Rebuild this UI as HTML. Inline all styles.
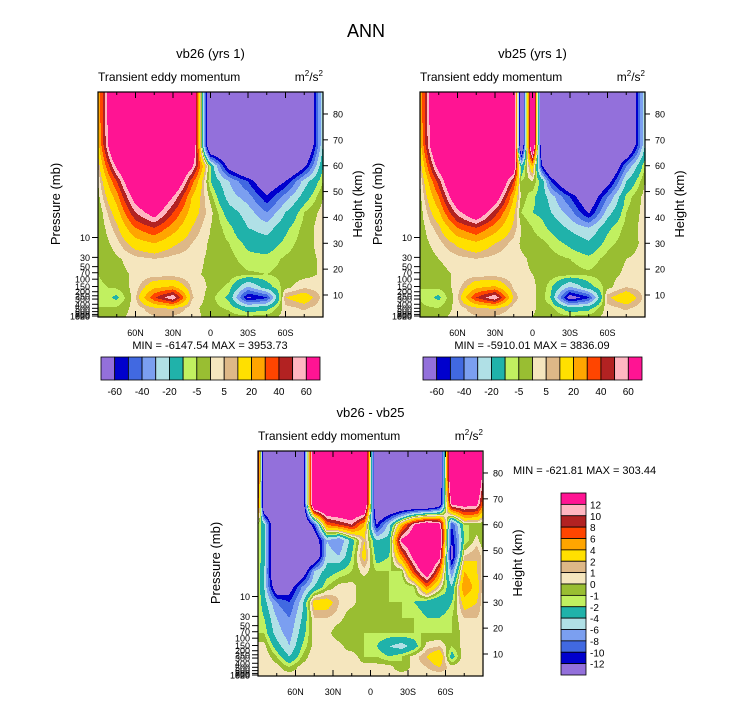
<!DOCTYPE html>
<html><head><meta charset="utf-8">
<style>
html,body{margin:0;padding:0;background:#fff;}
svg{display:block;font-family:"Liberation Sans",Arial,sans-serif;}
</style></head>
<body>
<svg id="fig" width="733" height="701" viewBox="0 0 733 701" xmlns="http://www.w3.org/2000/svg">
<rect width="733" height="701" fill="#fff"/>
<text x="366" y="37" font-size="18" text-anchor="middle">ANN</text>
<g id="layer"></g>
</svg>
<script>
// ---------- DATA ----------
const heightsKm = [88,78,68,60,54,48,42,36,30,24,18,13,9,5,2];
const topLevels = [-60,-50,-40,-30,-20,-10,-5,0,5,10,20,30,40,50,60];
const topLevelLabels = ["-60","-40","-20","-5","5","20","40","60"];
const diffLevels = [-12,-10,-8,-6,-4,-2,-1,0,1,2,4,6,8,10,12];
const diffLevelLabels = ["12","10","8","6","4","2","1","0","-1","-2","-4","-6","-8","-10","-12"];
const pressureTicks = [10,30,50,70,100,150,200,250,300,400,500,600,700,850,925,1000];
const heightTicks = [10,20,30,40,50,60,70,80];
const latTicks = [60,30,0,-30,-60];
const latTickLabels = ["60N","30N","0","30S","60S"];

const vb26Lats = [90,75,60,45,30,15,0,-15,-30,-45,-60,-75,-90];
const vb26Values = [
[20,100,100,100,100,100,-100,-100,-100,-100,-100,-100,-20],
[20,100,100,100,100,100,-100,-100,-100,-100,-100,-100,-20],
[15,100,100,100,100,100,-100,-100,-100,-100,-100,-100,-20],
[5,65,100,100,100,65,-10,-70,-100,-100,-100,-65,-10],
[0,40,90,100,90,35,-10,-30,-50,-80,-60,-25,-5],
[-2,25,70,90,60,20,-2,-25,-35,-58,-35,-15,0],
[-5,15,50,70,40,15,2,-15,-25,-40,-20,-5,2],
[-5,8,30,40,25,10,0,-8,-20,-25,-12,-3,3],
[-5,3,15,20,12,5,-1,-5,-12,-15,-8,-2,2],
[-5,-1,3,5,3,2,-1,-3,-8,-8,-4,-2,1],
[-5,-2,1,2,2,1,-1,-2,-4,-5,-3,-2,1],
[-6,-4,2,18,22,4,-1,-7,-32,-14,-2,4,2],
[-5,-12,4,38,60,6,-3,-12,-62,-52,10,16,3],
[-5,-4,2,9,11,2,-3,-6,-16,-13,3,6,2],
[-3,-2,2,5,5,2,-2,-3,-5,-4,2,3,0]
];

const vb25Lats = [90,75,60,45,30,15,9,0,-8,-15,-30,-45,-60,-75,-90];
const vb25Values = [
[20,100,100,100,100,100,-100,100,-100,-100,-100,-100,-100,-100,-20],
[20,100,100,100,100,100,-100,100,-100,-100,-100,-100,-100,-100,-20],
[15,100,100,100,100,100,-100,100,-100,-100,-100,-100,-100,-100,-20],
[5,70,100,100,100,80,-20,20,-60,-100,-100,-100,-100,-40,-5],
[0,45,100,100,100,40,-5,0,-15,-50,-90,-100,-70,-20,0],
[-2,30,80,100,75,20,-2,-8,-15,-25,-50,-80,-40,-8,2],
[-3,18,55,80,45,12,-5,-10,-12,-20,-35,-62,-25,-5,2],
[-3,8,30,40,25,8,0,-5,-8,-12,-22,-30,-12,-3,2],
[-3,3,12,18,10,3,-1,-3,-4,-6,-12,-18,-7,-2,1],
[-4,0,3,5,3,1,1,-1,-2,-3,-5,-8,-3,0,1],
[-4,-2,1,2,2,1,1,0,-1,-2,-3,-4,-2,1,1],
[-5,-4,2,18,22,4,2,1,-2,-9,-32,-14,-2,5,2],
[-5,-12,4,40,60,8,3,2,-3,-11,-70,-52,8,18,3],
[-4,-5,2,9,11,3,1,1,-2,-3,-16,-13,3,6,2],
[-2,-2,2,5,5,2,1,0,-1,-2,-5,-4,2,3,1]
];

const diffLats = [90,85,75,65,55,45,35,25,15,5,-5,-15,-25,-35,-45,-55,-65,-75,-85,-90];
const diffValues = [
[12,-20,-20,-20,-20,20,20,20,20,20,-20,-20,-20,-20,-20,-20,20,20,20,10],
[12,-20,-20,-20,-20,20,20,20,20,20,-20,-20,-20,-20,-20,-20,20,20,20,10],
[10,-20,-20,-20,-20,20,20,20,20,20,-20,-20,-20,-20,-20,-16,13,14,13,6],
[-1,-3,-20,-20,-20,-10,6,8,10,4,-12,-5,4,12,16,14,-10,-1,-1,-1],
[-1,-3,-20,-20,-20,-16,-6,-8,-3,2,-4,-3,13,16,18,16,-12,-2,0.5,-1],
[-1,-3,-20,-20,-20,-18,-5,-6,-2,3,-3,-2,6,14,20,14,-14,1,2,0.5],
[-1,-4,-20,-20,-16,-6,-3,-2,-1,0.5,-1,-1,-1,8,16,6,-8,4,2,0.5],
[-1,-4,-16,-14,-8,-4,-1,0.5,0.5,-1,-1,-1,-2,-1,6,1,-4,6,3,0.5],
[-1,-3,-8,-10,-5,3,3,1,0.5,-1,-1,-1,-1,-2,-3,-4,-2,3,2,0.5],
[-1,-2,-6,-8,-4,1,1,0.5,-1,-1,-1,-1,-1,-1,-2,-2,-1,1,1,0.5],
[-1,-1,-5,-7,-3,0.5,0.5,-1,-1,-1,-1,-1,-1,-1,-1,-1,-1,0.5,0.5,0.5],
[0.5,0.5,-3,-6,-2,0.5,1,0.5,-1,-1,-2,-4,-5,-3,0.5,1,-1,0.5,1,0.5],
[0.5,1,-1,-4,-1,1,0.5,0.5,1,-1,-1,-2,-1,0.5,2,4,-3,1,0.5,0.5],
[0.5,1,0.5,-1,0.5,1,0.5,0.5,1,0.5,0.5,0.5,-1,0.5,1,2,0.5,1,0.5,0.5],
[0.5,0.5,0.5,0.5,0.5,0.5,0.5,0.5,0.5,0.5,0.5,0.5,0.5,0.5,0.5,0.5,0.5,0.5,0.5,0.5]
];

const palette = ["#9370DB","#0000CD","#4169E1","#7B9FF0","#B0E0E6","#20B2AA","#C1F060","#99BE32","#F5E6BE","#DEB887","#FFE000","#FFA500","#FF4500","#B22222","#FFB6C1","#FF1493"];

// ---------- DRAWING ----------
const NS = "http://www.w3.org/2000/svg";
const layer = document.getElementById('layer');
function mk(tag, attrs, parent){ const e=document.createElementNS(NS,tag); for(const k in attrs) e.setAttribute(k,attrs[k]); (parent||layer).appendChild(e); return e; }
function txt(s, attrs, parent){ const e=mk('text',attrs,parent); e.textContent=s; return e; }

function seg(arr, v){
  if (v>=arr[0]) return [0,0];
  const n=arr.length;
  if (v<=arr[n-1]) return [n-2,1];
  for(let i=0;i<n-1;i++){ if(v<=arr[i] && v>=arr[i+1]) return [i,(arr[i]-v)/(arr[i]-arr[i+1])]; }
  return [n-2,1];
}
function sample(lats, vals, lat, h){
  const [i,fx]=seg(lats,lat); const [j,fy]=seg(heightsKm,h);
  const a=vals[j][i], b=vals[j][i+1], c=vals[j+1][i], d=vals[j+1][i+1];
  return (a*(1-fx)+b*fx)*(1-fy)+(c*(1-fx)+d*fx)*fy;
}
function classify(levels, v){ let k=0; for(const L of levels){ if(v>=L) k++; } return k; }

function drawPanel(p){
  const g = mk('g',{});
  
  
  const x0=p.x, y0=p.y, W=225, H=225;
  const xOf = lat => x0 + (90-lat)/180*W;
  const yOfH = h => y0 + (88.5-h)*2.586;
  const field = mk('g',{},g);
  
  
  for(let py=0; py<H; py++){
    const h = 88.5 - (py+0.5)/2.586;
    let runStart=0, runK=-1;
    for(let px=0; px<=W; px++){
      let k=-2;
      if(px<W){ const lat = 90-(px+0.5)/W*180; k = classify(p.levels, sample(p.lats,p.vals,lat,h)); }
      if(k!==runK){
        if(runK>=0){
          const r = mk('rect',{x:x0+runStart,y:y0+py,width:px-runStart+0.6,height:1.6,fill:palette[runK]},field);
          
          
        }
        runStart=px; runK=k;
      }
    }
  }
  const box = mk('rect',{x:x0,y:y0,width:W,height:H,fill:'none',stroke:'#000','stroke-width':1.2},g);
  
  
  for(let lat=-90; lat<=90; lat+=15){
    const x=xOf(lat); const major = lat%30===0;
    const len = major?6:3;
    mk('line',{x1:x,y1:y0,x2:x,y2:y0+len,stroke:'#000','stroke-width':1},g);
    mk('line',{x1:x,y1:y0+H,x2:x,y2:y0+H-len,stroke:'#000','stroke-width':1},g);
  }
  latTicks.forEach((lat,i)=>{
    const t = txt(latTickLabels[i],{x:xOf(lat),y:y0+H+19,'font-size':9,'text-anchor':'middle'},g);
    
    
  });
  pressureTicks.forEach(pr=>{
    let hk = 7*Math.log(1000/pr); const y=Math.min(y0+H-1, yOfH(hk));
    mk('line',{x1:x0,y1:y,x2:x0-6,y2:y,stroke:'#000','stroke-width':1},g);
    const t = txt(String(pr),{x:x0-8,y:y+3.5,'font-size':9,'text-anchor':'end'},g);
    
    
  });
  heightTicks.forEach(hk=>{
    const y=yOfH(hk);
    mk('line',{x1:x0+W,y1:y,x2:x0+W+5,y2:y,stroke:'#000','stroke-width':1},g);
    const t = txt(String(hk),{x:x0+W+10,y:y+3.5,'font-size':9},g);
    
    
  });
  const ti = txt(p.title,{x:x0+W/2,y:y0-34,'font-size':13,'text-anchor':'middle'},g);
  
  
  const st = txt('Transient eddy momentum',{x:x0,y:y0-11,'font-size':12},g);
  
  
  const un = mk('text',{x:x0+W,y:y0-11,'font-size':12,'text-anchor':'end'},g);
  un.innerHTML = 'm<tspan dy="-5" font-size="8">2</tspan><tspan dy="5">/s</tspan><tspan dy="-5" font-size="8">2</tspan>';
  
  
  const yl = txt('Pressure (mb)',{x:0,y:0,'font-size':13,'text-anchor':'middle',transform:`translate(${x0-38},${y0+112}) rotate(-90)`},g);
  
  
  const yr = txt('Height (km)',{x:0,y:0,'font-size':13,'text-anchor':'middle',transform:`translate(${x0+W+39},${y0+112}) rotate(-90)`},g);
  
  
  const mm = txt(p.minmax,{x:p.mmx,y:p.mmy,'font-size':11,'text-anchor':p.mmAnchor},g);
  
  
}

function hColorbar(x,y,w,h,labels,name){
  const g=mk('g',{});
  
  
  const bw=w/palette.length;
  palette.forEach((c,i)=>{
    const r=mk('rect',{x:x+i*bw,y:y,width:bw,height:h,fill:c,stroke:'#000','stroke-width':0.8},g);
    
    
  });
  labels.forEach((l,i)=>{
    const t=txt(l,{x:x+(1+2*i)*bw,y:y+h+15,'font-size':10,'text-anchor':'middle'},g);
    
    
  });
}
function vColorbar(x,y,w,h,labels,name){
  const g=mk('g',{});
  
  
  const bh=h/palette.length;
  palette.slice().reverse().forEach((c,i)=>{
    const r=mk('rect',{x:x,y:y+i*bh,width:w,height:bh,fill:c,stroke:'#000','stroke-width':0.8},g);
    
    
  });
  labels.forEach((l,i)=>{
    const t=txt(l,{x:x+w+4,y:y+(i+1)*bh+4,'font-size':10},g);
    
    
  });
}

drawPanel({name:'panel-vb26',x:98,y:92,lats:vb26Lats,vals:vb26Values,levels:topLevels,title:'vb26 (yrs 1)',minmax:'MIN = -6147.54  MAX = 3953.73',mmx:210,mmy:349,mmAnchor:'middle'});
drawPanel({name:'panel-vb25',x:420,y:92,lats:vb25Lats,vals:vb25Values,levels:topLevels,title:'vb25 (yrs 1)',minmax:'MIN = -5910.01  MAX = 3836.09',mmx:532,mmy:349,mmAnchor:'middle'});
drawPanel({name:'panel-difference',x:258,y:451,lats:diffLats,vals:diffValues,levels:diffLevels,title:'vb26 - vb25',minmax:'MIN = -621.81  MAX = 303.44',mmx:513,mmy:474,mmAnchor:'start'});
hColorbar(101,357,219,23,topLevelLabels,'colorbar-vb26');
hColorbar(423,357,219,23,topLevelLabels,'colorbar-vb25');
vColorbar(561,493,25,182,diffLevelLabels,'colorbar-difference');
</script>
</body></html>
